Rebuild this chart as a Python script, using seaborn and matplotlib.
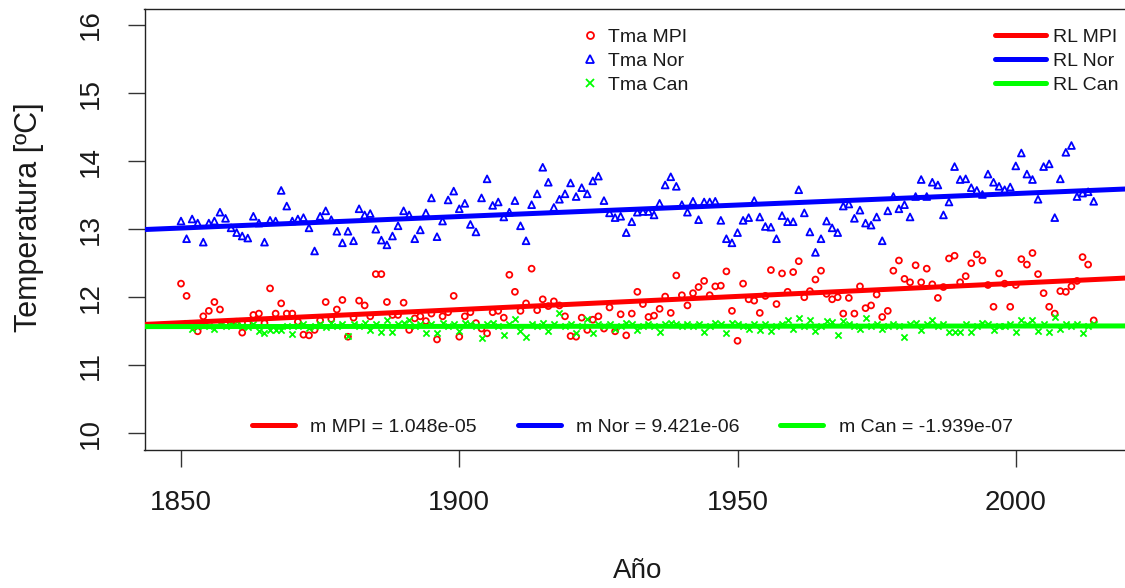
import numpy as np
import pandas as pd
import matplotlib
matplotlib.use("Agg")
import matplotlib.pyplot as plt
import seaborn as sns
from matplotlib.lines import Line2D

years = list(range(1850, 2015))

tma_mpi = [
    12.20, 12.02, 11.58, 11.50, 11.72, 11.80, 11.93, 11.82, 11.60, 11.62,
    11.64, 11.48, 11.62, 11.74, 11.76, 11.62, 12.13, 11.76, 11.91, 11.76,
    11.76, 11.64, 11.45, 11.44, 11.52, 11.66, 11.93, 11.68, 11.82, 11.96,
    11.42, 11.70, 11.95, 11.88, 11.72, 12.34, 12.34, 11.93, 11.74, 11.74,
    11.92, 11.52, 11.69, 11.72, 11.65, 11.76, 11.38, 11.72, 11.78, 12.02,
    11.42, 11.72, 11.78, 11.62, 11.54, 11.47, 11.78, 11.80, 11.70, 12.33,
    12.08, 11.80, 11.91, 12.42, 11.81, 11.97, 11.87, 11.94, 11.88, 11.72,
    11.43, 11.42, 11.70, 11.52, 11.67, 11.72, 11.54, 11.85, 11.50, 11.75,
    11.44, 11.76, 12.08, 11.90, 11.71, 11.73, 11.83, 12.01, 11.77, 12.32,
    12.03, 11.88, 12.06, 12.15, 12.24, 12.03, 12.16, 12.17, 12.38, 11.80,
    11.36, 12.20, 11.97, 11.95, 11.77, 12.02, 12.40, 11.90, 12.35, 12.08,
    12.37, 12.53, 12.00, 12.09, 12.26, 12.39, 12.05, 11.97, 12.00, 11.76,
    11.99, 11.76, 12.16, 11.84, 11.88, 12.04, 11.71, 11.80, 12.39, 12.54,
    12.27, 12.22, 12.47, 12.22, 12.42, 12.19, 11.99, 12.15, 12.57, 12.61,
    12.22, 12.31, 12.50, 12.63, 12.54, 12.18, 11.86, 12.35, 12.20, 11.86,
    12.18, 12.56, 12.48, 12.65, 12.34, 12.06, 11.86, 11.76, 12.09, 12.08,
    12.16, 12.24, 12.59, 12.48, 11.66,
]

tma_nor = [
    13.12, 12.86, 13.15, 13.09, 12.81, 13.09, 13.12, 13.25, 13.16, 13.02,
    12.95, 12.90, 12.87, 13.19, 13.09, 12.81, 13.13, 13.12, 13.57, 13.34,
    13.12, 13.15, 13.17, 13.02, 12.68, 13.19, 13.27, 13.14, 12.97, 12.80,
    12.97, 12.83, 13.30, 13.21, 13.23, 13.00, 12.84, 12.77, 12.90, 13.05,
    13.27, 13.21, 12.86, 12.99, 13.24, 13.46, 12.89, 13.12, 13.43, 13.56,
    13.30, 13.38, 13.07, 12.96, 13.46, 13.74, 13.35, 13.40, 13.18, 13.25,
    13.42, 13.05, 12.83, 13.36, 13.52, 13.91, 13.69, 13.32, 13.44, 13.52,
    13.68, 13.48, 13.61, 13.52, 13.71, 13.78, 13.42, 13.24, 13.17, 13.19,
    12.95, 13.11, 13.25, 13.26, 13.26, 13.21, 13.38, 13.65, 13.77, 13.63,
    13.36, 13.25, 13.41, 13.14, 13.40, 13.40, 13.41, 13.13, 12.86, 12.80,
    12.95, 13.13, 13.17, 13.42, 13.18, 13.04, 13.03, 12.86, 13.20, 13.11,
    13.11, 13.58, 13.24, 12.96, 12.66, 12.86, 13.12, 13.02, 12.95, 13.34,
    13.37, 13.16, 13.28, 13.09, 13.06, 13.18, 12.83, 13.27, 13.48, 13.30,
    13.36, 13.18, 13.48, 13.73, 13.48, 13.69, 13.65, 13.21, 13.40, 13.92,
    13.73, 13.74, 13.61, 13.57, 13.51, 13.81, 13.69, 13.63, 13.58, 13.62,
    13.93, 14.12, 13.81, 13.73, 13.44, 13.92, 13.96, 13.17, 13.74, 14.13,
    14.23, 13.48, 13.53, 13.55, 13.41,
]

tma_can = [
    11.60, 11.62, 11.53, 11.58, 11.60, 11.58, 11.53, 11.60, 11.58, 11.62,
    11.65, 11.58, 11.57, 11.60, 11.50, 11.48, 11.52, 11.52, 11.52, 11.58,
    11.46, 11.58, 11.60, 11.55, 11.58, 11.60, 11.56, 11.62, 11.58, 11.60,
    11.43, 11.60, 11.58, 11.62, 11.52, 11.60, 11.49, 11.67, 11.49, 11.60,
    11.62, 11.67, 11.58, 11.60, 11.48, 11.60, 11.48, 11.62, 11.58, 11.60,
    11.50, 11.62, 11.60, 11.58, 11.40, 11.60, 11.62, 11.58, 11.44, 11.60,
    11.68, 11.50, 11.41, 11.60, 11.58, 11.62, 11.50, 11.60, 11.77, 11.58,
    11.60, 11.48, 11.58, 11.68, 11.48, 11.60, 11.58, 11.60, 11.53, 11.58,
    11.62, 11.60, 11.52, 11.58, 11.60, 11.58, 11.49, 11.60, 11.62, 11.60,
    11.58, 11.60, 11.58, 11.60, 11.49, 11.58, 11.62, 11.60, 11.47, 11.62,
    11.60, 11.58, 11.53, 11.60, 11.52, 11.60, 11.50, 11.58, 11.60, 11.67,
    11.53, 11.70, 11.58, 11.67, 11.50, 11.58, 11.65, 11.64, 11.44, 11.65,
    11.60, 11.58, 11.53, 11.69, 11.58, 11.60, 11.53, 11.58, 11.60, 11.58,
    11.41, 11.60, 11.62, 11.52, 11.60, 11.67, 11.58, 11.60, 11.49, 11.49,
    11.49, 11.60, 11.49, 11.58, 11.62, 11.60, 11.52, 11.58, 11.58, 11.60,
    11.49, 11.66, 11.60, 11.66, 11.50, 11.60, 11.49, 11.71, 11.53, 11.60,
    11.58, 11.60, 11.47, 11.58, 11.60,
]

series_names = ["MPI", "Nor", "Can"]
slope_labels = ["1.048e-05", "9.421e-06", "-1.939e-07"]
colors = ["#FF0000", "#0000FF", "#00FF00"]
y_ticks = [10, 11, 12, 13, 14, 15, 16]
x_ticks = [1850, 1900, 1950, 2000]

df = pd.DataFrame({"year": years, "MPI": tma_mpi, "Nor": tma_nor, "Can": tma_can})

sns.set_theme(style="white")
plt.rcParams["font.family"] = ["Liberation Sans", "DejaVu Sans"]

W, H = 1125, 588
fig = plt.figure(figsize=(W / 100, H / 100), dpi=100)
ax_l, ax_r, ax_t, ax_b = 144.5, 1130.2, 8.7, 449.7
ax = fig.add_axes([ax_l / W, 1 - ax_b / H, (ax_r - ax_l) / W, (ax_b - ax_t) / H])

ax.set_xlim(1843.44, 2020.56)
ax.set_ylim(9.76, 16.24)

mk = {"MPI": "o", "Nor": "^", "Can": "x"}
msz = {"MPI": 18, "Nor": 24, "Can": 20}
for name, col in zip(series_names, colors):
    if mk[name] == "x":
        sns.scatterplot(data=df, x="year", y=name, marker="x", s=msz[name],
                        color=col, linewidth=1.3, ax=ax, zorder=2)
    else:
        sns.scatterplot(data=df, x="year", y=name, marker=mk[name], s=msz[name],
                        color="none", edgecolor=col, linewidth=1.3, ax=ax, zorder=2)

for name, col in zip(series_names, colors):
    sns.regplot(data=df, x="year", y=name, scatter=False, ci=None, truncate=False,
                color=col, line_kws={"linewidth": 3.6, "solid_capstyle": "butt", "zorder": 3},
                ax=ax)

ax.set_xlim(1843.44, 2020.56)
ax.set_ylim(9.76, 16.24)
ax.set_xticks(x_ticks)
ax.set_yticks(y_ticks)
ax.set_xticklabels([str(v) for v in x_ticks])
ax.set_yticklabels([str(v) for v in y_ticks])
ax.tick_params(axis="both", which="major", length=12.2, width=1.0, color="#333333",
               labelsize=20, labelcolor="#1a1a1a", pad=17, direction="out",
               bottom=True, left=True)
ax.tick_params(axis="y", labelrotation=90)
for lab in ax.get_yticklabels():
    lab.set_va("center")
for sp in ax.spines.values():
    sp.set_color("#222222")
    sp.set_linewidth(1.0)

ax.set_xlabel("Año", fontsize=20, color="#1a1a1a")
ax.set_ylabel("Temperatura [ºC]", fontsize=22, color="#1a1a1a")
ax.xaxis.set_label_coords(0.5, -0.245)
ax.yaxis.set_label_coords(-0.102, 0.528)

pt_handles = [
    Line2D([], [], linestyle="none", marker="o", markersize=5, markerfacecolor="none",
           markeredgecolor=colors[0], markeredgewidth=1.3),
    Line2D([], [], linestyle="none", marker="^", markersize=6, markerfacecolor="none",
           markeredgecolor=colors[1], markeredgewidth=1.3),
    Line2D([], [], linestyle="none", marker="x", markersize=5.5,
           markeredgecolor=colors[2], markeredgewidth=1.3),
]
leg_common = dict(loc="upper left", frameon=False, borderpad=0, borderaxespad=0,
                  labelspacing=0.34, fontsize=14, labelcolor="#1a1a1a")
leg1 = fig.legend(pt_handles, ["Tma " + n for n in series_names],
                  bbox_to_anchor=(580 / W, 1 - 28 / H),
                  handlelength=1.0, handletextpad=0.45, **leg_common)

ln_handles = [Line2D([], [], color=c, linewidth=3.6) for c in colors]
leg2 = fig.legend(ln_handles, ["RL " + n for n in series_names],
                  bbox_to_anchor=(995 / W, 1 - 28 / H),
                  handlelength=2.6, handletextpad=0.4, **leg_common)

ln_handles3 = [Line2D([], [], color=c, linewidth=3.6) for c in colors]
leg3 = fig.legend(ln_handles3, ["m " + n + " = " + s for n, s in zip(series_names, slope_labels)],
                  loc="center left", bbox_to_anchor=(252 / W, 1 - 427 / H), ncol=3,
                  frameon=False, borderpad=0, borderaxespad=0, handlelength=2.2,
                  handletextpad=0.8, columnspacing=2.1, fontsize=14, labelcolor="#1a1a1a")

fig.savefig("out.png", dpi=100)
